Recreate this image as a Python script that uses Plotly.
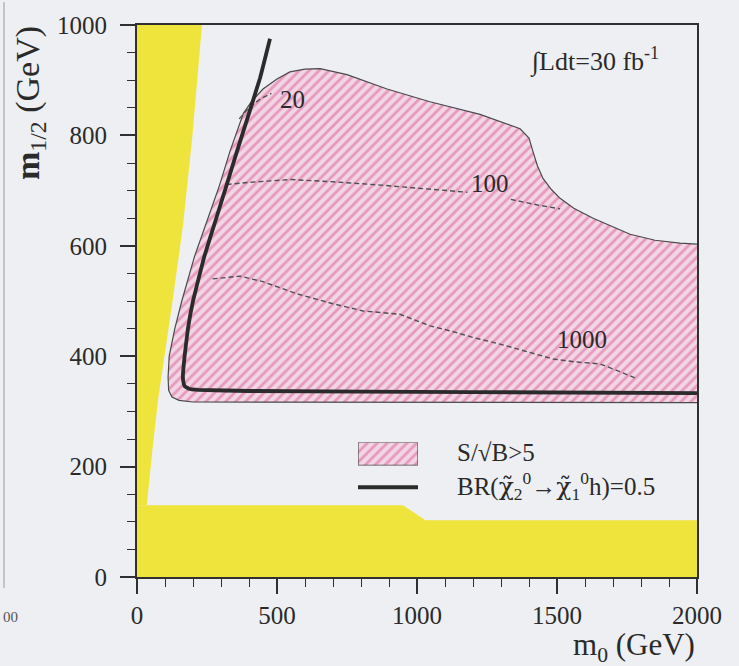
import plotly.graph_objects as go

# ---- data (m0, m1/2 in GeV) ----
# theoretically excluded region at small m0 (yellow wedge)
wedge_m0 = [0, 35, 55, 75, 127, 165, 198, 232, 0]
wedge_m12 = [130, 130, 230, 320, 500, 640, 800, 1000, 1000]

# experimentally excluded region at small m1/2 (yellow band)
band_m0 = [0, 950, 1030, 2000, 2000, 0]
band_m12 = [130, 130, 103, 103, 0, 0]

# region with S/sqrt(B) > 5
sig_m0 = [2000, 1200, 400, 200, 150, 125, 113, 111, 115, 135, 160, 205, 250, 295,
          332, 380, 410, 450, 500, 546, 600, 654, 750, 893, 1046, 1225, 1368, 1400,
          1414, 1430, 1450, 1480, 1511, 1560, 1629, 1700, 1761, 1850, 1939, 2000]
sig_m12 = [316, 316, 316, 317, 320, 326, 338, 362, 400, 450, 500, 580, 645, 710,
           771, 840, 862, 884, 902, 915, 920, 921, 910, 884, 861, 838, 812, 795,
           771, 745, 722, 702, 686, 668, 650, 634, 621, 610, 605, 603]

# BR(chi2 -> chi1 h) = 0.5 contour
br_m0 = [2000, 1200, 400, 220, 185, 170, 165, 164, 170, 182, 200, 240, 280, 320,
         357, 400, 440, 475]
br_m12 = [333, 335, 337, 339, 341, 346, 355, 365, 400, 450, 500, 580, 645, 710,
          771, 840, 905, 975]

# signal event-count contours
c20_m0 = [365, 400, 440, 480]
c20_m12 = [830, 850, 866, 876]
c100_m0 = [320, 400, 550, 700, 870, 1050, 1180, None, 1335, 1430, 1511]
c100_m12 = [711, 715, 720, 716, 710, 703, 697, None, 684, 674, 667]
c1000_m0 = [270, 368, 450, 571, 700, 807, 939, 1046, 1118, 1200, 1296, 1380,
            1439, 1486, 1560, 1654, 1720, 1786]
c1000_m12 = [540, 545, 535, 513, 495, 482, 476, 455, 446, 434, 422, 410,
             401, 395, 390, 386, 373, 359]

contour_labels = ["20", "100", "1000"]
label_m0 = [557, 1261, 1589]
label_m12 = [865, 713, 431]

x_ticks = [0, 500, 1000, 1500, 2000]
y_ticks = [0, 200, 400, 600, 800, 1000]

# ---- styling ----
SERIF = "Liberation Serif"
INK = "#2a2a2a"
BG = "#edeff2"
YELLOW = "#efe43c"
HATCH = dict(shape="/", fgcolor="#d65c96", bgcolor="#f3d6e4", size=7, solidity=0.4)

fig = go.Figure()

fig.add_trace(go.Scatter(x=wedge_m0, y=wedge_m12, fill="toself", fillcolor=YELLOW,
                         mode="none", hoverinfo="skip"))
fig.add_trace(go.Scatter(x=band_m0, y=band_m12, fill="toself", fillcolor=YELLOW,
                         mode="none", hoverinfo="skip"))
fig.add_trace(go.Scatter(x=sig_m0, y=sig_m12, fill="toself", fillpattern=HATCH,
                         mode="lines", line=dict(color="#4a4a4a", width=1.2),
                         hoverinfo="skip"))

for cx, cy in [(c20_m0, c20_m12), (c100_m0, c100_m12), (c1000_m0, c1000_m12)]:
    fig.add_trace(go.Scatter(x=cx, y=cy, mode="lines",
                             line=dict(color="#505050", width=1.4, dash="5px,3px"),
                             hoverinfo="skip"))

fig.add_trace(go.Scatter(x=br_m0, y=br_m12, mode="lines",
                         line=dict(color="#2b2b2b", width=3.8, shape="spline",
                                   smoothing=0.3),
                         hoverinfo="skip"))

# legend swatch for the hatched region, on its own unit axes
fig.add_trace(go.Scatter(x=[0, 1, 1, 0, 0], y=[0, 0, 1, 1, 0], fill="toself",
                         fillpattern=HATCH, mode="lines",
                         line=dict(color="#4a4a4a", width=1.2),
                         xaxis="x2", yaxis="y2", hoverinfo="skip"))

annotations = []
for t, xm, ym in zip(contour_labels, label_m0, label_m12):
    annotations.append(dict(x=xm, y=ym, xref="x", yref="y", text=t, showarrow=False,
                            font=dict(family=SERIF, size=25, color=INK)))

def px_x(px):
    return (px - 137) / 560.0

def px_y(py):
    return (577 - py) / 554.0

chi = '<span style="font-family:DejaVu Serif">\u03c7\u0303</span>'

annotations += [
    dict(x=px_x(528), y=px_y(58), xref="paper", yref="paper", xanchor="left",
         yanchor="middle", showarrow=False,
         text="\u222bLdt=30 fb<sup>-1</sup>",
         font=dict(family=SERIF, size=26, color=INK)),
    dict(x=px_x(455), y=px_y(452), xref="paper", yref="paper", xanchor="left",
         yanchor="middle", showarrow=False, text="S/\u221aB>5",
         font=dict(family=SERIF, size=25, color=INK)),
    dict(x=px_x(455), y=px_y(486), xref="paper", yref="paper", xanchor="left",
         yanchor="middle", showarrow=False,
         text="BR(" + chi + "<sub>2</sub><sup>0</sup>\u2192" + chi
              + "<sub>1</sub><sup>0</sup>h)=0.5",
         font=dict(family=SERIF, size=25, color=INK)),
    dict(x=1.0, y=px_y(647), xref="paper", yref="paper", xanchor="right",
         yanchor="middle", showarrow=False,
         text="m<sub>0</sub> (GeV)",
         font=dict(family=SERIF, size=31, color=INK)),
    dict(x=px_x(30), y=px_y(22), xref="paper", yref="paper", xanchor="center",
         yanchor="top", showarrow=False, textangle=-90,
         text="<b>m</b><sub>1/2</sub> (GeV)",
         font=dict(family=SERIF, size=34, color=INK)),
    # remnant of the neighbouring panel at the left edge
    dict(x=px_x(1), y=px_y(617), xref="paper", yref="paper", xanchor="left",
         yanchor="middle", showarrow=False, text="00",
         font=dict(family=SERIF, size=15, color="#555555")),
]

shapes = [
    dict(type="line", xref="paper", yref="paper", x0=px_x(358), x1=px_x(418),
         y0=px_y(487), y1=px_y(487), line=dict(color="#2b2b2b", width=4)),
    dict(type="line", xref="paper", yref="paper", x0=px_x(4), x1=px_x(4),
         y0=px_y(0), y1=px_y(588), line=dict(color="#9a9a9a", width=1)),
]

axis_common = dict(
    showgrid=False, zeroline=False, showline=True, linewidth=2, linecolor="#303030",
    mirror=True, ticks="outside", ticklen=15, tickwidth=1.6, tickcolor="#303030",
    tickfont=dict(family=SERIF, size=25, color=INK),
)

fig.update_layout(
    width=739, height=666, autosize=False,
    margin=dict(l=137, r=42, t=23, b=89),
    paper_bgcolor=BG, plot_bgcolor=BG,
    showlegend=False,
    xaxis=dict(range=[0, 2000], tickvals=x_ticks, ticklabelstandoff=0,
               minor=dict(ticks="outside", ticklen=8, tickwidth=1.2, dtick=100,
                          tick0=0, tickcolor="#303030", showgrid=False),
               **axis_common),
    yaxis=dict(range=[0, 1000], tickvals=y_ticks, ticklabelstandoff=8,
               minor=dict(ticks="outside", ticklen=8, tickwidth=1.2, dtick=50,
                          tick0=0, tickcolor="#303030", showgrid=False),
               **axis_common),
    xaxis2=dict(domain=[px_x(358), px_x(418)], range=[0, 1], anchor="y2",
                visible=False, fixedrange=True),
    yaxis2=dict(domain=[px_y(465), px_y(442)], range=[0, 1], anchor="x2",
                visible=False, fixedrange=True),
    annotations=annotations,
    shapes=shapes,
)

fig.write_html("out.html")
